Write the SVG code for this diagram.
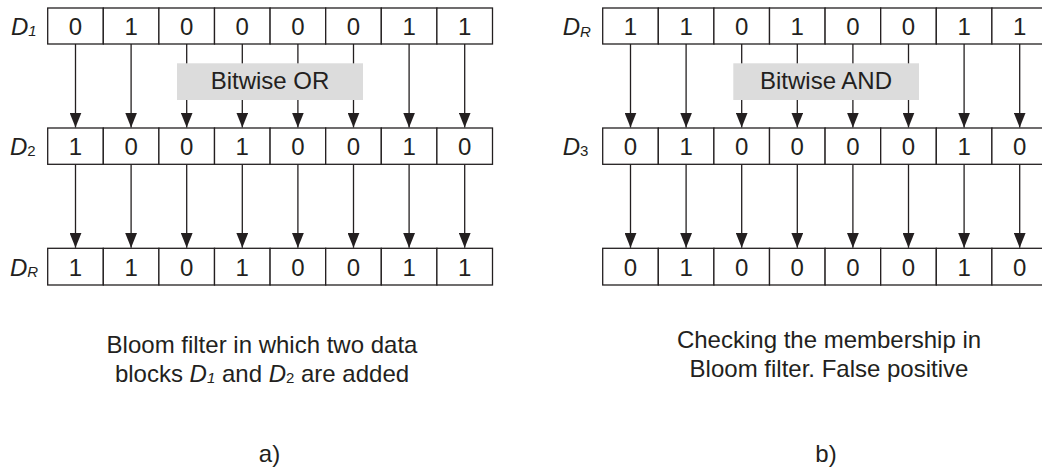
<svg xmlns="http://www.w3.org/2000/svg" width="1042" height="472" viewBox="0 0 1042 472">
<style>
.cell{fill:#fff;stroke:#231f20;stroke-width:1.3}
.t{font-family:"Liberation Sans",Arial,sans-serif;font-size:24px;fill:#231f20}
.d{text-anchor:middle}
.c{text-anchor:middle}
.lab{font-style:italic}
.sub{font-size:15px}
.up{font-style:normal}
.op{fill:#dcdcdc}
.conn line{stroke:#231f20;stroke-width:1.3;marker-end:url(#ah)}
</style>
<defs>
<marker id="ah" markerWidth="15" markerHeight="12" refX="15" refY="6" orient="auto" markerUnits="userSpaceOnUse">
<path d="M0,0 L15,6 L0,12 z" fill="#231f20"/>
</marker>
</defs>

<g id="connectors" class="conn">
<line x1="75.5" y1="44" x2="75.5" y2="127.5"/>
<line x1="131.1" y1="44" x2="131.1" y2="127.5"/>
<line x1="186.7" y1="44" x2="186.7" y2="127.5"/>
<line x1="242.3" y1="44" x2="242.3" y2="127.5"/>
<line x1="297.9" y1="44" x2="297.9" y2="127.5"/>
<line x1="353.5" y1="44" x2="353.5" y2="127.5"/>
<line x1="409.1" y1="44" x2="409.1" y2="127.5"/>
<line x1="464.7" y1="44" x2="464.7" y2="127.5"/>
<line x1="75.5" y1="164.3" x2="75.5" y2="247.8"/>
<line x1="131.1" y1="164.3" x2="131.1" y2="247.8"/>
<line x1="186.7" y1="164.3" x2="186.7" y2="247.8"/>
<line x1="242.3" y1="164.3" x2="242.3" y2="247.8"/>
<line x1="297.9" y1="164.3" x2="297.9" y2="247.8"/>
<line x1="353.5" y1="164.3" x2="353.5" y2="247.8"/>
<line x1="409.1" y1="164.3" x2="409.1" y2="247.8"/>
<line x1="464.7" y1="164.3" x2="464.7" y2="247.8"/>
<line x1="630.5" y1="44" x2="630.5" y2="127.5"/>
<line x1="686.1" y1="44" x2="686.1" y2="127.5"/>
<line x1="741.7" y1="44" x2="741.7" y2="127.5"/>
<line x1="797.3" y1="44" x2="797.3" y2="127.5"/>
<line x1="852.9" y1="44" x2="852.9" y2="127.5"/>
<line x1="908.5" y1="44" x2="908.5" y2="127.5"/>
<line x1="964.1" y1="44" x2="964.1" y2="127.5"/>
<line x1="1019.7" y1="44" x2="1019.7" y2="127.5"/>
<line x1="630.5" y1="164.3" x2="630.5" y2="247.8"/>
<line x1="686.1" y1="164.3" x2="686.1" y2="247.8"/>
<line x1="741.7" y1="164.3" x2="741.7" y2="247.8"/>
<line x1="797.3" y1="164.3" x2="797.3" y2="247.8"/>
<line x1="852.9" y1="164.3" x2="852.9" y2="247.8"/>
<line x1="908.5" y1="164.3" x2="908.5" y2="247.8"/>
<line x1="964.1" y1="164.3" x2="964.1" y2="247.8"/>
<line x1="1019.7" y1="164.3" x2="1019.7" y2="247.8"/>
</g>

<g id="op-or">
<rect class="op" x="177" y="63.3" width="186" height="36.7"/>
<text class="t c" x="270" y="89">Bitwise OR</text>
</g>
<g id="op-and">
<rect class="op" x="733.3" y="63.3" width="185.7" height="36.7"/>
<text class="t c" x="826" y="89">Bitwise AND</text>
</g>

<g id="row-d1">
<text class="t lab" x="11" y="35">D<tspan class="sub" dy="1">1</tspan></text>
<rect class="cell" x="47.7" y="8" width="55.6" height="36"/>
<rect class="cell" x="103.3" y="8" width="55.6" height="36"/>
<rect class="cell" x="158.9" y="8" width="55.6" height="36"/>
<rect class="cell" x="214.5" y="8" width="55.6" height="36"/>
<rect class="cell" x="270.1" y="8" width="55.6" height="36"/>
<rect class="cell" x="325.7" y="8" width="55.6" height="36"/>
<rect class="cell" x="381.3" y="8" width="55.6" height="36"/>
<rect class="cell" x="436.9" y="8" width="55.6" height="36"/>
<text class="t d" y="35"><tspan x="75.5">0</tspan><tspan x="131.1">1</tspan><tspan x="186.7">0</tspan><tspan x="242.3">0</tspan><tspan x="297.9">0</tspan><tspan x="353.5">0</tspan><tspan x="409.1">1</tspan><tspan x="464.7">1</tspan></text>
</g>

<g id="row-d2">
<text class="t lab" x="10" y="155">D<tspan class="sub up" dy="1">2</tspan></text>
<rect class="cell" x="47.7" y="128" width="55.6" height="36.3"/>
<rect class="cell" x="103.3" y="128" width="55.6" height="36.3"/>
<rect class="cell" x="158.9" y="128" width="55.6" height="36.3"/>
<rect class="cell" x="214.5" y="128" width="55.6" height="36.3"/>
<rect class="cell" x="270.1" y="128" width="55.6" height="36.3"/>
<rect class="cell" x="325.7" y="128" width="55.6" height="36.3"/>
<rect class="cell" x="381.3" y="128" width="55.6" height="36.3"/>
<rect class="cell" x="436.9" y="128" width="55.6" height="36.3"/>
<text class="t d" y="155"><tspan x="75.5">1</tspan><tspan x="131.1">0</tspan><tspan x="186.7">0</tspan><tspan x="242.3">1</tspan><tspan x="297.9">0</tspan><tspan x="353.5">0</tspan><tspan x="409.1">1</tspan><tspan x="464.7">0</tspan></text>
</g>

<g id="row-dr-left">
<text class="t lab" x="10" y="275.5">D<tspan class="sub" dy="1.5">R</tspan></text>
<rect class="cell" x="47.7" y="248.3" width="55.6" height="36.7"/>
<rect class="cell" x="103.3" y="248.3" width="55.6" height="36.7"/>
<rect class="cell" x="158.9" y="248.3" width="55.6" height="36.7"/>
<rect class="cell" x="214.5" y="248.3" width="55.6" height="36.7"/>
<rect class="cell" x="270.1" y="248.3" width="55.6" height="36.7"/>
<rect class="cell" x="325.7" y="248.3" width="55.6" height="36.7"/>
<rect class="cell" x="381.3" y="248.3" width="55.6" height="36.7"/>
<rect class="cell" x="436.9" y="248.3" width="55.6" height="36.7"/>
<text class="t d" y="275.5"><tspan x="75.5">1</tspan><tspan x="131.1">1</tspan><tspan x="186.7">0</tspan><tspan x="242.3">1</tspan><tspan x="297.9">0</tspan><tspan x="353.5">0</tspan><tspan x="409.1">1</tspan><tspan x="464.7">1</tspan></text>
</g>

<g id="row-dr-right">
<text class="t lab" x="562.7" y="35">D<tspan class="sub" dy="1.5">R</tspan></text>
<rect class="cell" x="602.7" y="8" width="55.6" height="36"/>
<rect class="cell" x="658.3" y="8" width="55.6" height="36"/>
<rect class="cell" x="713.9" y="8" width="55.6" height="36"/>
<rect class="cell" x="769.5" y="8" width="55.6" height="36"/>
<rect class="cell" x="825.1" y="8" width="55.6" height="36"/>
<rect class="cell" x="880.7" y="8" width="55.6" height="36"/>
<rect class="cell" x="936.3" y="8" width="55.6" height="36"/>
<rect class="cell" x="991.9" y="8" width="55.6" height="36"/>
<text class="t d" y="35"><tspan x="630.5">1</tspan><tspan x="686.1">1</tspan><tspan x="741.7">0</tspan><tspan x="797.3">1</tspan><tspan x="852.9">0</tspan><tspan x="908.5">0</tspan><tspan x="964.1">1</tspan><tspan x="1019.7">1</tspan></text>
</g>

<g id="row-d3">
<text class="t lab" x="562.7" y="155">D<tspan class="sub up" dy="1">3</tspan></text>
<rect class="cell" x="602.7" y="128" width="55.6" height="36.3"/>
<rect class="cell" x="658.3" y="128" width="55.6" height="36.3"/>
<rect class="cell" x="713.9" y="128" width="55.6" height="36.3"/>
<rect class="cell" x="769.5" y="128" width="55.6" height="36.3"/>
<rect class="cell" x="825.1" y="128" width="55.6" height="36.3"/>
<rect class="cell" x="880.7" y="128" width="55.6" height="36.3"/>
<rect class="cell" x="936.3" y="128" width="55.6" height="36.3"/>
<rect class="cell" x="991.9" y="128" width="55.6" height="36.3"/>
<text class="t d" y="155"><tspan x="630.5">0</tspan><tspan x="686.1">1</tspan><tspan x="741.7">0</tspan><tspan x="797.3">0</tspan><tspan x="852.9">0</tspan><tspan x="908.5">0</tspan><tspan x="964.1">1</tspan><tspan x="1019.7">0</tspan></text>
</g>

<g id="row-result">
<rect class="cell" x="602.7" y="248.3" width="55.6" height="36.7"/>
<rect class="cell" x="658.3" y="248.3" width="55.6" height="36.7"/>
<rect class="cell" x="713.9" y="248.3" width="55.6" height="36.7"/>
<rect class="cell" x="769.5" y="248.3" width="55.6" height="36.7"/>
<rect class="cell" x="825.1" y="248.3" width="55.6" height="36.7"/>
<rect class="cell" x="880.7" y="248.3" width="55.6" height="36.7"/>
<rect class="cell" x="936.3" y="248.3" width="55.6" height="36.7"/>
<rect class="cell" x="991.9" y="248.3" width="55.6" height="36.7"/>
<text class="t d" y="275.5"><tspan x="630.5">0</tspan><tspan x="686.1">1</tspan><tspan x="741.7">0</tspan><tspan x="797.3">0</tspan><tspan x="852.9">0</tspan><tspan x="908.5">0</tspan><tspan x="964.1">1</tspan><tspan x="1019.7">0</tspan></text>
</g>

<g id="caption-a">
<text class="t c" x="262" y="353">Bloom filter in which two data</text>
<text class="t c" x="262" y="382">blocks <tspan class="lab">D</tspan><tspan class="lab sub" dy="1">1</tspan><tspan dy="-1"> and </tspan><tspan class="lab">D</tspan><tspan class="sub" dy="1">2</tspan><tspan dy="-1"> are added</tspan></text>
<text class="t c" x="269.5" y="462">a)</text>
</g>
<g id="caption-b">
<text class="t c" x="829" y="348">Checking the membership in</text>
<text class="t c" x="829" y="377">Bloom filter. False positive</text>
<text class="t c" x="826" y="462">b)</text>
</g>
</svg>
